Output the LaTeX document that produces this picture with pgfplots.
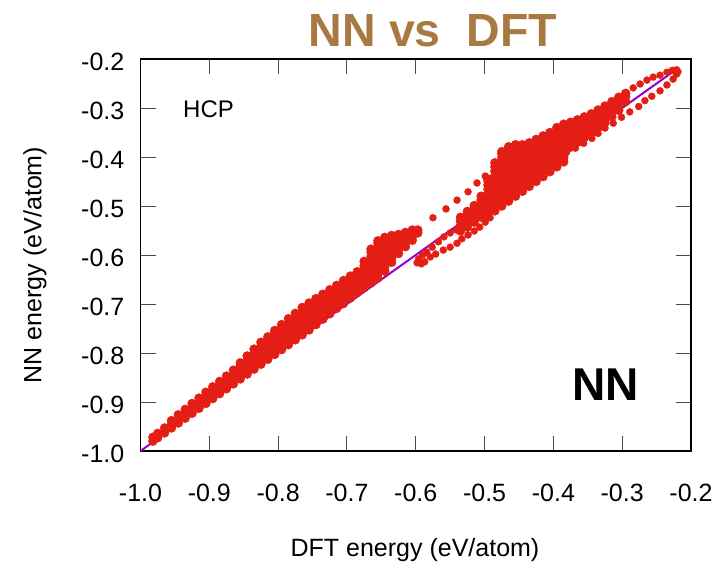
\documentclass[border=0pt]{standalone}
\usepackage{fontspec}
\setmainfont{Liberation Sans}
\usepackage{pgfplots}
\pgfplotsset{compat=1.18}
\definecolor{ptred}{RGB}{228,30,20}
\definecolor{lnviolet}{RGB}{148,0,211}
\definecolor{titlebrown}{RGB}{168,122,66}
\newcommand{\tfont}{\fontsize{25bp}{30bp}\selectfont}
\begin{document}
\begin{tikzpicture}
\path[use as bounding box] (-140.5bp,-119bp) rectangle (577.5bp,451bp);
\begin{axis}[
  at={(0,0)}, anchor=south west,
  scale only axis, width=550.5bp, height=392bp,
  xmin=-1, xmax=-0.2, ymin=-1, ymax=-0.2,
  xtick={-1,-0.9,-0.8,-0.7,-0.6,-0.5,-0.4,-0.3,-0.2},
  ytick={-1,-0.9,-0.8,-0.7,-0.6,-0.5,-0.4,-0.3,-0.2},
  xticklabels={-1.0,-0.9,-0.8,-0.7,-0.6,-0.5,-0.4,-0.3,-0.2},
  yticklabels={-1.0,-0.9,-0.8,-0.7,-0.6,-0.5,-0.4,-0.3,-0.2},
  tick align=inside, major tick length=15bp,
  every tick/.style={black!70, line width=0.9bp},
  axis line style={black, line width=1.1bp},
  xticklabel style={font=\tfont, inner sep=0pt, yshift=-33bp},
  yticklabel style={font=\tfont, inner sep=0pt, xshift=-16bp, yshift=-3bp},
  dense/.style={only marks, mark=*, color=ptred, mark size=4.5pt, mark options={fill=ptred, draw=ptred, line width=0.4pt}},
  sparse/.style={only marks, mark=*, color=ptred, mark size=3.5pt, mark options={fill=ptred, draw=ptred, line width=0.4pt}},
]
% dense main band
\addplot[dense] coordinates {
(-0.982,-0.980) (-0.982,-0.972)
(-0.975,-0.973) (-0.975,-0.964)
(-0.965,-0.963) (-0.965,-0.953)
(-0.955,-0.953) (-0.955,-0.945) (-0.955,-0.938)
(-0.945,-0.943) (-0.945,-0.935) (-0.945,-0.926)
(-0.935,-0.933) (-0.935,-0.924) (-0.935,-0.915)
(-0.925,-0.923) (-0.925,-0.913) (-0.925,-0.903)
(-0.915,-0.913) (-0.915,-0.903) (-0.915,-0.892)
(-0.905,-0.903) (-0.905,-0.895) (-0.905,-0.887) (-0.905,-0.880)
(-0.895,-0.893) (-0.895,-0.885) (-0.895,-0.877) (-0.895,-0.869)
(-0.885,-0.883) (-0.885,-0.875) (-0.885,-0.866) (-0.885,-0.858)
(-0.875,-0.873) (-0.875,-0.865) (-0.875,-0.856) (-0.875,-0.847)
(-0.865,-0.863) (-0.865,-0.855) (-0.865,-0.845) (-0.865,-0.835)
(-0.855,-0.853) (-0.855,-0.844) (-0.855,-0.835) (-0.855,-0.827) (-0.855,-0.820)
(-0.845,-0.843) (-0.845,-0.834) (-0.845,-0.825) (-0.845,-0.815) (-0.845,-0.806)
(-0.835,-0.833) (-0.835,-0.825) (-0.835,-0.817) (-0.835,-0.809) (-0.835,-0.801) (-0.835,-0.792)
(-0.825,-0.823) (-0.825,-0.814) (-0.825,-0.805) (-0.825,-0.796) (-0.825,-0.787) (-0.825,-0.778)
(-0.815,-0.813) (-0.815,-0.805) (-0.815,-0.796) (-0.815,-0.787) (-0.815,-0.777) (-0.815,-0.767)
(-0.805,-0.803) (-0.805,-0.794) (-0.805,-0.785) (-0.805,-0.776) (-0.805,-0.767) (-0.805,-0.759) (-0.805,-0.754)
(-0.795,-0.793) (-0.795,-0.784) (-0.795,-0.775) (-0.795,-0.766) (-0.795,-0.757) (-0.795,-0.749) (-0.795,-0.742)
(-0.785,-0.783) (-0.785,-0.774) (-0.785,-0.765) (-0.785,-0.756) (-0.785,-0.747) (-0.785,-0.739) (-0.785,-0.730)
(-0.775,-0.773) (-0.775,-0.764) (-0.775,-0.755) (-0.775,-0.746) (-0.775,-0.737) (-0.775,-0.728) (-0.775,-0.719)
(-0.765,-0.763) (-0.765,-0.754) (-0.765,-0.745) (-0.765,-0.736) (-0.765,-0.727) (-0.765,-0.718) (-0.765,-0.707)
(-0.755,-0.753) (-0.755,-0.744) (-0.755,-0.735) (-0.755,-0.726) (-0.755,-0.717) (-0.755,-0.708) (-0.755,-0.698)
(-0.745,-0.742) (-0.745,-0.733) (-0.745,-0.724) (-0.745,-0.715) (-0.745,-0.706) (-0.745,-0.697) (-0.745,-0.689)
(-0.735,-0.731) (-0.735,-0.722) (-0.735,-0.713) (-0.735,-0.704) (-0.735,-0.695) (-0.735,-0.687) (-0.735,-0.680)
(-0.725,-0.720) (-0.725,-0.712) (-0.725,-0.703) (-0.725,-0.695) (-0.725,-0.687) (-0.725,-0.679) (-0.725,-0.671)
(-0.715,-0.709) (-0.715,-0.701) (-0.715,-0.693) (-0.715,-0.685) (-0.715,-0.677) (-0.715,-0.669) (-0.715,-0.662)
(-0.705,-0.699) (-0.705,-0.691) (-0.705,-0.683) (-0.705,-0.675) (-0.705,-0.667) (-0.705,-0.659) (-0.705,-0.652)
(-0.695,-0.688) (-0.695,-0.680) (-0.695,-0.672) (-0.695,-0.664) (-0.695,-0.656) (-0.695,-0.649) (-0.695,-0.643)
(-0.685,-0.677) (-0.685,-0.668) (-0.685,-0.659) (-0.685,-0.651) (-0.685,-0.642) (-0.685,-0.634)
(-0.675,-0.667) (-0.675,-0.658) (-0.675,-0.649) (-0.675,-0.640) (-0.675,-0.631) (-0.675,-0.622) (-0.675,-0.613)
(-0.665,-0.657) (-0.665,-0.648) (-0.665,-0.639) (-0.665,-0.630) (-0.665,-0.621) (-0.665,-0.612) (-0.665,-0.603) (-0.665,-0.594) (-0.665,-0.588)
(-0.655,-0.647) (-0.655,-0.638) (-0.655,-0.629) (-0.655,-0.620) (-0.655,-0.611) (-0.655,-0.602) (-0.655,-0.593) (-0.655,-0.584) (-0.655,-0.576) (-0.655,-0.571)
(-0.645,-0.633) (-0.645,-0.624) (-0.645,-0.615) (-0.645,-0.606) (-0.645,-0.597) (-0.645,-0.588) (-0.645,-0.579) (-0.645,-0.570) (-0.645,-0.564)
(-0.635,-0.615) (-0.635,-0.606) (-0.635,-0.597) (-0.635,-0.588) (-0.635,-0.579) (-0.635,-0.570) (-0.635,-0.563) (-0.635,-0.560)
(-0.625,-0.597) (-0.625,-0.588) (-0.625,-0.579) (-0.625,-0.570) (-0.625,-0.563) (-0.625,-0.558)
(-0.615,-0.583) (-0.615,-0.575) (-0.615,-0.567) (-0.615,-0.559) (-0.615,-0.554)
(-0.605,-0.570) (-0.605,-0.562) (-0.605,-0.554) (-0.605,-0.549)
(-0.597,-0.555) (-0.597,-0.549)
};
% dense cluster near -0.5 .. -0.3
\addplot[dense] coordinates {
(-0.535,-0.551) (-0.535,-0.541) (-0.535,-0.531) (-0.535,-0.523)
(-0.525,-0.543) (-0.525,-0.534) (-0.525,-0.525) (-0.525,-0.516) (-0.525,-0.511)
(-0.515,-0.533) (-0.515,-0.524) (-0.515,-0.515) (-0.515,-0.506) (-0.515,-0.499)
(-0.505,-0.523) (-0.505,-0.514) (-0.505,-0.505) (-0.505,-0.496) (-0.505,-0.488) (-0.505,-0.480)
(-0.495,-0.520) (-0.495,-0.511) (-0.495,-0.502) (-0.495,-0.493) (-0.495,-0.484) (-0.495,-0.475) (-0.495,-0.466) (-0.495,-0.457) (-0.495,-0.449) (-0.495,-0.445)
(-0.485,-0.510) (-0.485,-0.501) (-0.485,-0.492) (-0.485,-0.483) (-0.485,-0.474) (-0.485,-0.465) (-0.485,-0.456) (-0.485,-0.447) (-0.485,-0.438) (-0.485,-0.429) (-0.485,-0.420) (-0.485,-0.412)
(-0.475,-0.500) (-0.475,-0.491) (-0.475,-0.482) (-0.475,-0.473) (-0.475,-0.464) (-0.475,-0.455) (-0.475,-0.446) (-0.475,-0.437) (-0.475,-0.428) (-0.475,-0.419) (-0.475,-0.410) (-0.475,-0.401) (-0.475,-0.393) (-0.475,-0.389)
(-0.465,-0.490) (-0.465,-0.481) (-0.465,-0.472) (-0.465,-0.463) (-0.465,-0.454) (-0.465,-0.445) (-0.465,-0.436) (-0.465,-0.427) (-0.465,-0.418) (-0.465,-0.409) (-0.465,-0.400) (-0.465,-0.391) (-0.465,-0.383) (-0.465,-0.379)
(-0.455,-0.480) (-0.455,-0.471) (-0.455,-0.462) (-0.455,-0.453) (-0.455,-0.444) (-0.455,-0.435) (-0.455,-0.426) (-0.455,-0.417) (-0.455,-0.408) (-0.455,-0.399) (-0.455,-0.390) (-0.455,-0.381) (-0.455,-0.375)
(-0.445,-0.470) (-0.445,-0.461) (-0.445,-0.452) (-0.445,-0.443) (-0.445,-0.434) (-0.445,-0.425) (-0.445,-0.416) (-0.445,-0.407) (-0.445,-0.398) (-0.445,-0.389) (-0.445,-0.380) (-0.445,-0.375)
(-0.435,-0.460) (-0.435,-0.451) (-0.435,-0.442) (-0.435,-0.433) (-0.435,-0.424) (-0.435,-0.415) (-0.435,-0.406) (-0.435,-0.397) (-0.435,-0.388) (-0.435,-0.379) (-0.435,-0.371)
(-0.425,-0.450) (-0.425,-0.441) (-0.425,-0.432) (-0.425,-0.423) (-0.425,-0.414) (-0.425,-0.405) (-0.425,-0.396) (-0.425,-0.387) (-0.425,-0.378) (-0.425,-0.369) (-0.425,-0.364)
(-0.415,-0.440) (-0.415,-0.431) (-0.415,-0.422) (-0.415,-0.413) (-0.415,-0.404) (-0.415,-0.395) (-0.415,-0.386) (-0.415,-0.377) (-0.415,-0.368) (-0.415,-0.361) (-0.415,-0.357)
(-0.405,-0.430) (-0.405,-0.421) (-0.405,-0.412) (-0.405,-0.403) (-0.405,-0.394) (-0.405,-0.385) (-0.405,-0.376) (-0.405,-0.367) (-0.405,-0.358) (-0.405,-0.350)
(-0.395,-0.420) (-0.395,-0.411) (-0.395,-0.402) (-0.395,-0.393) (-0.395,-0.384) (-0.395,-0.375) (-0.395,-0.366) (-0.395,-0.357) (-0.395,-0.348) (-0.395,-0.340)
(-0.385,-0.410) (-0.385,-0.401) (-0.385,-0.392) (-0.385,-0.383) (-0.385,-0.374) (-0.385,-0.365) (-0.385,-0.356) (-0.385,-0.347) (-0.385,-0.338) (-0.385,-0.333)
(-0.375,-0.380) (-0.375,-0.371) (-0.375,-0.362) (-0.375,-0.353) (-0.375,-0.344) (-0.375,-0.335) (-0.375,-0.329)
(-0.365,-0.370) (-0.365,-0.361) (-0.365,-0.352) (-0.365,-0.343) (-0.365,-0.334) (-0.365,-0.328) (-0.365,-0.324)
(-0.355,-0.360) (-0.355,-0.351) (-0.355,-0.342) (-0.355,-0.333) (-0.355,-0.324) (-0.355,-0.318)
(-0.345,-0.350) (-0.345,-0.341) (-0.345,-0.332) (-0.345,-0.323) (-0.345,-0.316) (-0.345,-0.312)
(-0.335,-0.340) (-0.335,-0.331) (-0.335,-0.322) (-0.335,-0.313) (-0.335,-0.304)
(-0.325,-0.330) (-0.325,-0.321) (-0.325,-0.312) (-0.325,-0.303) (-0.325,-0.296)
(-0.315,-0.318) (-0.315,-0.309) (-0.315,-0.301) (-0.315,-0.293) (-0.315,-0.287)
(-0.305,-0.305) (-0.305,-0.295) (-0.305,-0.285) (-0.305,-0.278)
(-0.295,-0.287) (-0.295,-0.277) (-0.295,-0.270)
};
% sparse dotted trails and loop
\addplot[sparse] coordinates {
(-0.575,-0.524) (-0.556,-0.506) (-0.540,-0.488) (-0.524,-0.471) (-0.511,-0.453) (-0.499,-0.439)
(-0.598,-0.616) (-0.592,-0.618) (-0.587,-0.614) (-0.579,-0.604) (-0.571,-0.598) (-0.560,-0.590)
(-0.550,-0.584) (-0.540,-0.576) (-0.533,-0.567) (-0.524,-0.559) (-0.515,-0.551) (-0.507,-0.543)
(-0.499,-0.533) (-0.492,-0.524)
(-0.596,-0.608) (-0.590,-0.600) (-0.584,-0.594) (-0.576,-0.584) (-0.567,-0.573) (-0.559,-0.563)
(-0.550,-0.555) (-0.541,-0.549) (-0.531,-0.541) (-0.521,-0.533) (-0.511,-0.522)
(-0.294,-0.269) (-0.284,-0.259) (-0.274,-0.251) (-0.264,-0.243) (-0.255,-0.237) (-0.245,-0.233)
(-0.235,-0.227) (-0.227,-0.223) (-0.221,-0.222) (-0.219,-0.226)
(-0.221,-0.231) (-0.226,-0.241) (-0.235,-0.253) (-0.245,-0.265) (-0.257,-0.276) (-0.267,-0.285)
(-0.276,-0.297) (-0.289,-0.308) (-0.301,-0.319) (-0.313,-0.331) (-0.325,-0.341) (-0.335,-0.352)
(-0.344,-0.362) (-0.356,-0.372) (-0.368,-0.382) (-0.381,-0.391)
};
% y = x reference line
\addplot[lnviolet, line width=2bp] coordinates {(-1,-1) (-0.22,-0.22)};
\node[anchor=base west, font=\fontsize{24bp}{28bp}\selectfont] at (axis cs:-0.943,-0.320) {HCP};
\node[anchor=base west, font=\fontsize{46bp}{52bp}\selectfont\bfseries] at (axis cs:-0.378,-0.896) {NN};
\end{axis}
\node[anchor=base, font=\fontsize{46.5bp}{52bp}\selectfont\bfseries, text=titlebrown] at (292.5bp,404bp) {NN vs\ \ DFT};
\node[anchor=center, font=\tfont] at (274.5bp,-99bp) {DFT energy (eV/atom)};
\node[anchor=center, rotate=90, font=\tfont] at (-105.5bp,186bp) {NN energy (eV/atom)};
\end{tikzpicture}
\end{document}
